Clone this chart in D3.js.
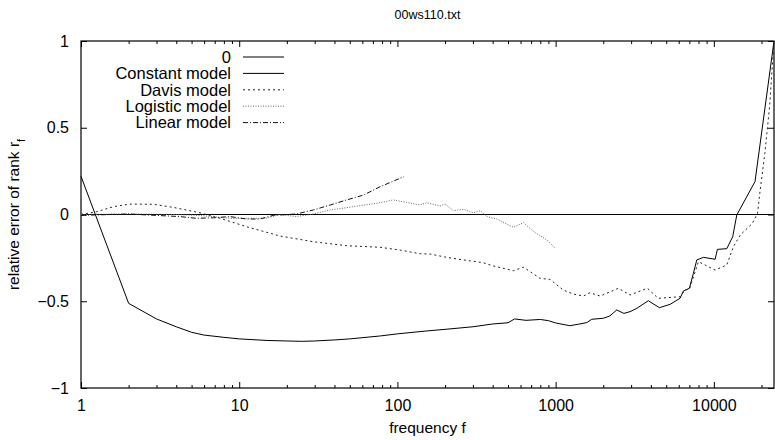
<!DOCTYPE html>
<html>
<head>
<meta charset="utf-8">
<script src="https://cdn.jsdelivr.net/npm/d3@7"></script>
<style>
  body { margin: 0; background: #fff; }
  text { font-family: "Liberation Sans", Arial, sans-serif; fill: #000; }
</style>
</head>
<body>
<div id="chart"></div>
<script>
// series data
var zeroF = [1, 24000];
var zeroV = [0, 0];

var constF = [1, 2, 3, 4, 5, 6, 8, 10, 15, 20, 25, 30, 40, 50, 78, 100, 150, 200, 300, 400, 500, 550, 650, 800, 900, 1000,
  1230, 1400, 1574, 1690, 2004, 2200, 2434, 2700, 2952, 3258, 3855, 4527, 5289, 6114, 6418, 7005, 7426, 7800, 8590,
  10190, 10530, 12070, 13160, 13960, 18210, 24000];
var constV = [0.22, -0.512, -0.602, -0.647, -0.679, -0.695, -0.708, -0.717, -0.726, -0.729, -0.731, -0.729, -0.723, -0.717, -0.70, -0.688, -0.672, -0.662, -0.647, -0.631, -0.624, -0.602, -0.61, -0.605, -0.612, -0.625,
  -0.641, -0.632, -0.623, -0.604, -0.598, -0.585, -0.55, -0.57, -0.56, -0.541, -0.497, -0.537, -0.518, -0.483, -0.441, -0.425, -0.339, -0.262, -0.247,
  -0.258, -0.201, -0.197, -0.128, -0.003, 0.19, 1.0];

var davisF = [1, 1.26, 1.6, 2.04, 2.86, 3.83, 5.65, 7.57, 11.1, 18.1, 29.4, 47.8, 77.7, 104, 139, 161, 205, 262, 349, 405, 541, 627, 797, 921,
  1116, 1288, 1500, 1650, 1913, 2495, 2952, 3800, 4450, 6114, 6580, 7005, 7990, 10190, 12070, 13290, 14700, 17520, 18900, 19500, 21000, 22500, 24000];
var davisV = [0, 0.016, 0.045, 0.06, 0.059, 0.041, 0.01, -0.022, -0.07, -0.124, -0.157, -0.18, -0.189, -0.205, -0.226, -0.228, -0.247, -0.262, -0.278, -0.297, -0.324, -0.304, -0.368, -0.374,
  -0.435, -0.458, -0.47, -0.451, -0.47, -0.425, -0.464, -0.425, -0.483, -0.474, -0.435, -0.431, -0.272, -0.32, -0.291, -0.186, -0.118, -0.051, 0.007, 0.12, 0.35, 0.62, 1.0];

var logF = [1, 2, 4, 5.5, 8.74, 11.1, 14.9, 18, 23, 29.4, 37.7, 52.7, 77.7, 94, 114.5, 139, 153, 186, 200, 226, 262, 302, 334, 368, 425, 541, 627, 727, 880, 996];
var logV = [0, 0.003, 0.0, -0.005, -0.022, -0.022, -0.022, 0, -0.012, 0.003, 0.026, 0.045, 0.068, 0.084, 0.07, 0.055, 0.068, 0.049, 0.06, 0.022, 0.03, 0.01, 0.022, -0.012, -0.026, -0.074, -0.047, -0.099, -0.147, -0.195];

var linF = [1, 2, 4.2, 5.37, 6.86, 8.74, 11.1, 13.5, 16.4, 23, 29.4, 37.7, 47.8, 61, 77.7, 110];
var linV = [-0.005, 0.003, -0.012, -0.022, -0.019, -0.012, -0.026, -0.026, -0.005, 0.003, 0.026, 0.055, 0.084, 0.112, 0.16, 0.218];

var xMajor = [1, 10, 100, 1000, 10000];
var yTicks = [-1, -0.5, 0, 0.5, 1];

var seriesNames = ["0", "Constant model", "Davis model", "Logistic model", "Linear model"];

// layout
var width = 775, height = 440;
var margin = { top: 41, right: 1, bottom: 52, left: 81 };

var svg = d3.select("#chart").append("svg")
    .attr("width", width)
    .attr("height", height);

var x = d3.scaleLog()
    .domain([1, 24000])
    .range([margin.left, width - margin.right]);

var y = d3.scaleLinear()
    .domain([-1, 1])
    .range([height - margin.bottom, margin.top]);

// minor ticks 2..9 per decade
var xMinor = [];
for (var d = 1; d <= 10000; d *= 10) {
  for (var k = 2; k <= 9; k++) {
    if (d * k <= 24000) xMinor.push(d * k);
  }
}

function styleAxis(g) {
  g.select(".domain").remove();
  g.selectAll("line").attr("stroke", "#000");
  g.selectAll("text").style("font-size", "16px").style("font-family", "Liberation Sans, Arial, sans-serif");
}

// bottom axis
svg.append("g")
    .attr("transform", "translate(0," + y(-1) + ")")
    .call(d3.axisBottom(x).tickValues(xMajor).tickFormat(d3.format("d")).tickSize(-6).tickPadding(12))
    .call(styleAxis);
svg.append("g")
    .attr("transform", "translate(0," + y(-1) + ")")
    .call(d3.axisBottom(x).tickValues(xMinor).tickFormat("").tickSize(-3))
    .call(styleAxis);

// top mirror
svg.append("g")
    .attr("transform", "translate(0," + y(1) + ")")
    .call(d3.axisTop(x).tickValues(xMajor).tickFormat("").tickSize(-6))
    .call(styleAxis);
svg.append("g")
    .attr("transform", "translate(0," + y(1) + ")")
    .call(d3.axisTop(x).tickValues(xMinor).tickFormat("").tickSize(-3))
    .call(styleAxis);

// left axis
svg.append("g")
    .attr("transform", "translate(" + x(1) + ",0)")
    .call(d3.axisLeft(y).tickValues(yTicks).tickFormat(d3.format("")).tickSize(-6).tickPadding(12))
    .call(styleAxis);

// right mirror
svg.append("g")
    .attr("transform", "translate(" + x(24000) + ",0)")
    .call(d3.axisRight(y).tickValues(yTicks).tickFormat("").tickSize(-6))
    .call(styleAxis);

// border box
svg.append("rect")
    .attr("x", x(1))
    .attr("y", y(1))
    .attr("width", x(24000) - x(1))
    .attr("height", y(-1) - y(1))
    .attr("fill", "none")
    .attr("stroke", "#000")
    .attr("stroke-width", 1.2);

// lines
var line = d3.line()
    .x(function (d) { return x(d[0]); })
    .y(function (d) { return y(d[1]); });

function pairs(f, v) { return f.map(function (d, i) { return [d, v[i]]; }); }

var series = [
  { name: seriesNames[0], data: pairs(zeroF, zeroV), color: "#000", dash: null },
  { name: seriesNames[1], data: pairs(constF, constV), color: "#000", dash: null },
  { name: seriesNames[2], data: pairs(davisF, davisV), color: "#222", dash: "2,3" },
  { name: seriesNames[3], data: pairs(logF, logV), color: "#666", dash: "1,1.5" },
  { name: seriesNames[4], data: pairs(linF, linV), color: "#111", dash: "5,2,1,2" }
];

svg.append("g").selectAll("path")
    .data(series)
    .enter().append("path")
    .attr("d", function (s) { return line(s.data); })
    .attr("fill", "none")
    .attr("stroke", function (s) { return s.color; })
    .attr("stroke-width", 1)
    .attr("stroke-dasharray", function (s) { return s.dash; });

// legend
var legend = svg.append("g");
series.forEach(function (s, i) {
  var ly = 57 + i * 16.4;
  legend.append("text")
      .attr("x", 231)
      .attr("y", ly)
      .attr("dy", "0.35em")
      .attr("text-anchor", "end")
      .style("font-size", "16.5px")
      .text(s.name);
  legend.append("line")
      .attr("x1", 243).attr("x2", 284)
      .attr("y1", ly).attr("y2", ly)
      .attr("stroke", s.color)
      .attr("stroke-width", 1)
      .attr("stroke-dasharray", s.dash);
});

// title and labels
svg.append("text")
    .attr("x", (x(1) + x(24000)) / 2)
    .attr("y", 19)
    .attr("text-anchor", "middle")
    .style("font-size", "12.5px")
    .text("00ws110.txt");

svg.append("text")
    .attr("x", (x(1) + x(24000)) / 2)
    .attr("y", 433)
    .attr("text-anchor", "middle")
    .style("font-size", "15.5px")
    .text("frequency f");

var yl = svg.append("text")
    .attr("transform", "translate(19," + y(0) + ") rotate(-90)")
    .attr("text-anchor", "middle")
    .style("font-size", "15.5px");
yl.append("tspan").text("relative error of rank r");
yl.append("tspan").attr("baseline-shift", "sub").style("font-size", "11px").text("f");
</script>
</body>
</html>
